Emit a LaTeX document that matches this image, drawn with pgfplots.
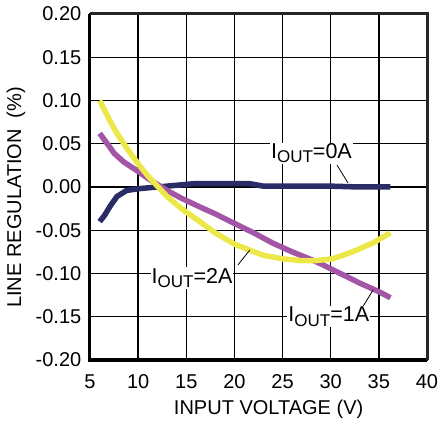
\documentclass[border=0pt]{standalone}
\usepackage{fontspec}
\setmainfont{Liberation Sans}
\usepackage{pgfplots}
\pgfplotsset{compat=1.18}

\definecolor{navyc}{HTML}{2A2C66}
\definecolor{purplec}{HTML}{A356A6}
\definecolor{yellowc}{HTML}{EDE84A}

\newcommand\iout[1]{{\fontsize{21.5bp}{22bp}\selectfont I\raisebox{-0.38ex}{\fontsize{17bp}{17bp}\selectfont OUT}=#1}}

\begin{document}
\fontsize{19.5bp}{22bp}\selectfont
\begin{tikzpicture}
\begin{axis}[
    scale only axis,
    width=337bp, height=346bp,
    xmin=5, xmax=40, ymin=-0.2, ymax=0.2,
    xtick={5,10,...,40},
    xticklabels={5,10,15,20,25,30,35,40},
    ytick={-0.2,-0.15,-0.1,-0.05,0,0.05,0.1,0.15,0.2},
    yticklabels={-0.20,-0.15,-0.10,-0.05,0.00,0.05,0.10,0.15,0.20},
    major tick length=0,
    grid=major,
    major grid style={black, line width=1.3bp},
    axis line style={black, line width=2bp},
    tick label style={font=\fontsize{20bp}{22bp}\selectfont},
    xticklabel style={yshift=-8bp},
    yticklabel style={xshift=-2bp},
    xlabel={INPUT VOLTAGE (V)},
    ylabel={LINE REGULATION\ \ (\%)},
    label style={font=\fontsize{20bp}{22bp}\selectfont},
    xlabel style={at={(axis description cs:0.53,0)}, anchor=north, yshift=-33bp},
    ylabel style={at={(axis description cs:0,0.47)}, anchor=south, yshift=58bp},
    every axis plot/.style={line width=5.5bp, line join=round, no markers},
    clip=false,
]
% I_OUT = 0A
\addplot[navyc] coordinates {
(6,-0.040) (6.5,-0.033) (7.1,-0.022) (7.8,-0.011) (8.8,-0.004) (10,-0.002)
(12,0.000) (14,0.002) (16,0.004) (18,0.004) (20,0.004) (21.5,0.004)
(23,0.001) (26,0.001) (30,0.001) (33,0.000) (36.2,0.000)};
% I_OUT = 1A
\addplot[purplec] coordinates {
(6,0.062) (7,0.047) (7.5,0.039) (8.5,0.029) (10,0.018) (11,0.010) (12,0.003)
(13,-0.004) (14.5,-0.013) (16.4,-0.023) (18,-0.031) (19.8,-0.041) (22,-0.053)
(24,-0.065) (26,-0.075) (28,-0.084) (29.2,-0.090) (31,-0.100) (33,-0.111)
(35,-0.121) (36.2,-0.128)};
% I_OUT = 2A
\addplot[yellowc] coordinates {
(6,0.100) (7,0.078) (7.8,0.062) (9,0.042) (10.2,0.024) (11,0.013) (12,0.001)
(13,-0.011) (14.5,-0.025) (16.4,-0.040) (18,-0.053) (20,-0.066) (21.6,-0.073)
(23,-0.079) (25,-0.083) (26.8,-0.085) (28.5,-0.085) (30.2,-0.083) (31.5,-0.078)
(32.7,-0.073) (34.5,-0.064) (36.2,-0.053)};

% frame: thicker left and bottom
\draw[black, line width=3bp] (axis cs:5,0.2) -- (axis cs:5,-0.2) -- (axis cs:40,-0.2);
\draw[black!85, line width=3bp] (axis cs:5,0.2) -- (axis cs:40,0.2) -- (axis cs:40,-0.2);
\coordinate (bl) at (rel axis cs:0,0);
\coordinate (tr) at (rel axis cs:1,1);

% leaders and labels
\draw[black, line width=0.8bp] (axis cs:30.65,0.0254) -- (axis cs:31.8,0.0046);
\draw[black, line width=0.8bp] (axis cs:20.37,-0.090) -- (axis cs:21.6,-0.0728);
\draw[black, line width=0.8bp] (axis cs:33.25,-0.140) -- (axis cs:34.4,-0.119);
\node[fill=white, inner sep=1bp] at (axis cs:28.0,0.0390) {\iout{0A}};
\node[fill=white, inner sep=1bp] at (axis cs:15.6,-0.105) {\iout{2A}};
\node[fill=white, inner sep=1bp] at (axis cs:29.8,-0.150) {\iout{1A}};
\end{axis}
\path (bl) ++(-90bp,-61bp) coordinate (bbl);
\path (tr) ++(10bp,14bp) coordinate (btr);
\pgfresetboundingbox
\path[use as bounding box] (bbl) rectangle (btr);
\end{tikzpicture}
\end{document}
